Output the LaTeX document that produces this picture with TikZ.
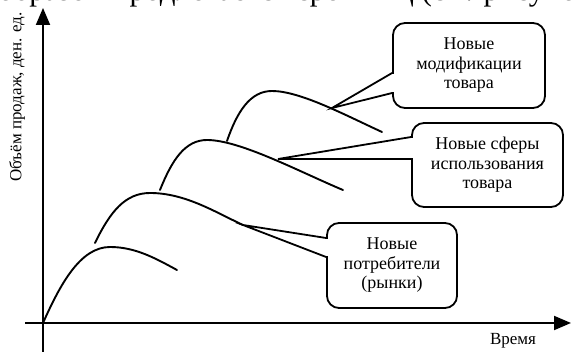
\documentclass[tikz,border=0pt]{standalone}
\usepackage{fontspec}
\setmainfont{Liberation Serif}
\usetikzlibrary{arrows.meta}
\tikzset{
  axis/.style={line width=1.9pt, -{Triangle[width=14pt,length=17pt]}},
  curve/.style={line width=1.9pt, line cap=round},
  callout/.style={draw, line width=1.8pt, rounded corners=12pt, fill=white, align=center, inner sep=0pt, font=\fontsize{18}{19.5}\selectfont},
  ptr/.style={line width=1.8pt, line join=miter},
  lbl/.style={font=\fontsize{17}{19}\selectfont, inner sep=0pt}
}
\begin{document}
\begin{tikzpicture}[x=1pt,y=-1pt]
\useasboundingbox (0,0) rectangle (571,352);
\clip (0,0) rectangle (571,352);
% cut-off text line at top
\node[anchor=base west, inner sep=0pt, font=\fontsize{31}{36}\selectfont] (toptext) at (-2,1) {образом продлевается срок ЖЦ (см. рисунок};
% axes
\coordinate (o) at (43,323);
\coordinate (ybot) at (43,352);
\coordinate (ytop) at (43,8);
\coordinate (xleft) at (25,323);
\coordinate (xright) at (571,323);
\draw[axis] (ybot) -- (ytop);
\draw[axis] (xleft) -- (xright);
\node[lbl, rotate=90] (ylab) at (17,97) {Объём продаж, ден. ед.};
\node[lbl] (xlab) at (513,341) {Время};
% curves
\coordinate (t3) at (243,225);
\coordinate (t2) at (278,159);
\coordinate (t1) at (332,108);
\draw[curve] (o) .. controls (60,285) and (80,247) .. (110,247) .. controls (135,247) and (155,258) .. (177,270);
\draw[curve] (95,243) .. controls (110,212) and (125,193) .. (150,193) .. controls (185,193) and (215,212) .. (t3);
\draw[curve] (160,190) .. controls (172,160) and (185,140) .. (207,140) .. controls (240,140) and (300,172) .. (343,190);
\draw[curve] (227,141) .. controls (237,112) and (250,91) .. (272,91) .. controls (300,91) and (345,115) .. (382,132);
% callouts
\node[callout, minimum width=152pt, minimum height=85pt] (b1) at (469,65.5) {Новые\\модификации\\товара};
\node[callout, minimum width=151pt, minimum height=84pt] (b2) at (487.5,165) {Новые сферы\\использования\\товара};
\node[callout, minimum width=130pt, minimum height=85pt] (b3) at (392,265.5) {Новые\\потребители\\(рынки)};
% erase border where pointers join
\fill[white] (391,74) rectangle (396,92);
\fill[white] (410,138) rectangle (415,158);
\fill[white] (325,239) rectangle (330,256);
\draw[ptr] (b1.west |- 0,73) -- (t1) -- (b1.west |- 0,93);
\draw[ptr] (b2.west |- 0,137) -- (t2) -- (b2.west |- 0,159);
\draw[ptr] (b3.west |- 0,238) -- (t3) -- (b3.west |- 0,257);
\end{tikzpicture}
\end{document}
